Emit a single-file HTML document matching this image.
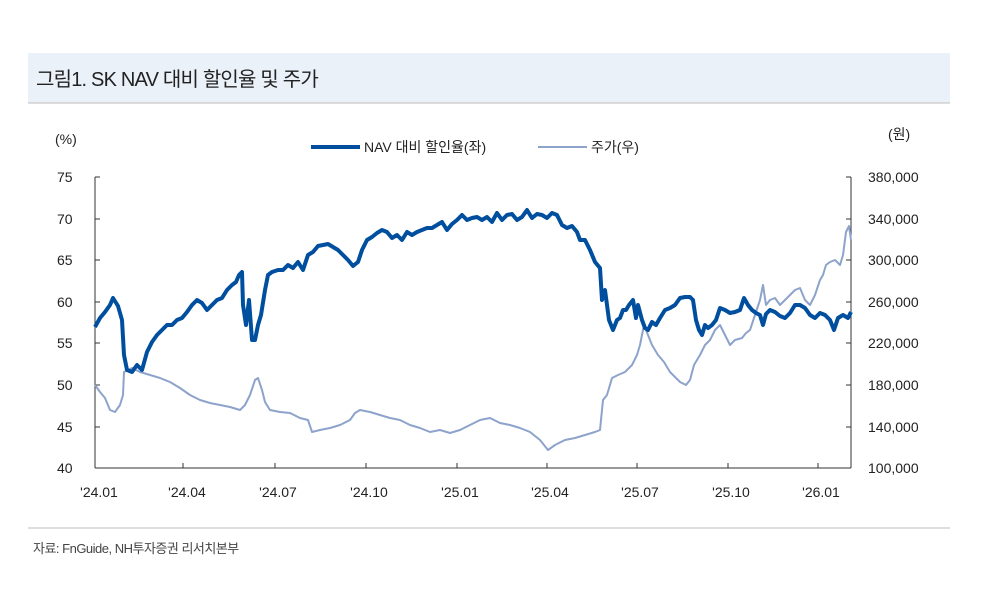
<!DOCTYPE html>
<html><head><meta charset="utf-8"><style>
body{margin:0;background:#fff;width:997px;height:592px;overflow:hidden;font-family:"Liberation Sans","Noto Sans CJK KR",sans-serif}
</style></head><body>
<svg width="997" height="592" xmlns="http://www.w3.org/2000/svg" style="position:absolute;left:0;top:0">
<rect x="28" y="53" width="922" height="50" fill="#ebf1f9"/>
<line x1="28" y1="103" x2="950" y2="103" stroke="#bcbcbc" stroke-width="1"/>
<text x="36" y="86" font-size="20" fill="#222" font-family="Liberation Sans,Noto Sans CJK KR,sans-serif" letter-spacing="-0.8">그림1. SK NAV 대비 할인율 및 주가</text>
<g font-size="14" fill="#222" font-family="Liberation Sans,Noto Sans CJK KR,sans-serif">
<text x="55" y="144">(%)</text>
<text x="888" y="139">(원)</text>
<text x="57" y="182">75</text><text x="57" y="224">70</text><text x="57" y="265">65</text><text x="57" y="307">60</text><text x="57" y="348">55</text><text x="57" y="390">50</text><text x="57" y="432">45</text><text x="57" y="473">40</text>
<text x="868" y="182">380,000</text><text x="868" y="224">340,000</text><text x="868" y="265">300,000</text><text x="868" y="307">260,000</text><text x="868" y="348">220,000</text><text x="868" y="390">180,000</text><text x="868" y="432">140,000</text><text x="868" y="473">100,000</text>
<g text-anchor="middle"><text x="99" y="497">'24.01</text><text x="187" y="497">'24.04</text><text x="278" y="497">'24.07</text><text x="369" y="497">'24.10</text><text x="460" y="497">'25.01</text><text x="550" y="497">'25.04</text><text x="640" y="497">'25.07</text><text x="731" y="497">'25.10</text><text x="821" y="497">'26.01</text></g>
<text x="364" y="152">NAV 대비 할인율(좌)</text>
<text x="591" y="152">주가(우)</text>
</g>
<line x1="311" y1="147" x2="360" y2="147" stroke="#004f9e" stroke-width="4"/>
<line x1="538" y1="147" x2="587" y2="147" stroke="#8da3cc" stroke-width="2"/>
<g stroke="#333" stroke-width="1" fill="none">
<line x1="95" y1="177" x2="95" y2="468"/><line x1="95" y1="468" x2="851" y2="468"/><line x1="851" y1="177" x2="851" y2="468"/>
<path d="M95 177h5M95 219h5M95 260h5M95 302h5M95 343h5M95 385h5M95 427h5M846 177h5M846 219h5M846 260h5M846 302h5M846 343h5M846 385h5M846 427h5M183 468v-5M275 468v-5M366 468v-5M457 468v-5M547 468v-5M637 468v-5M728 468v-5M818 468v-5"/>
</g>
<polyline fill="none" stroke="#8da3cc" stroke-width="2" stroke-linejoin="round" points="95,385 100,392 105,398 110,410 115,412 120,405 123,395 124,372 128,370 132,368 140,372 150,375 160,378 170,382 180,388 190,395 200,400 210,403 220,405 230,407 240,410 245,405 250,395 255,380 258,378 262,390 265,402 270,410 280,412 290,413 300,418 308,420 312,432 320,430 330,428 340,425 350,420 355,413 360,410 370,412 380,415 390,418 400,420 410,425 420,428 430,432 440,430 450,433 460,430 470,425 480,420 490,418 500,423 510,425 520,428 530,432 540,440 548,450 555,445 565,440 575,438 585,435 595,432 600,430 603,400 607,395 612,378 618,375 625,372 632,365 637,355 640,345 644,325 648,335 652,345 658,355 664,362 670,372 676,378 680,382 686,385 690,380 694,365 700,355 705,345 710,340 715,330 720,325 725,335 730,345 735,340 742,338 746,333 750,330 755,315 760,300 763,285 766,305 770,300 775,298 780,305 785,300 790,295 795,290 800,288 805,300 810,305 815,295 820,280 823,275 826,265 830,262 835,260 840,265 843,255 846,232 849,226 851,240"/>
<polyline fill="none" stroke="#004f9e" stroke-width="4" stroke-linejoin="round" points="95,327 100,318 105,312 110,305 113,298 118,306 122,320 124,355 127,370 132,372 137,365 142,370 147,352 152,342 157,335 162,330 167,325 172,325 177,320 182,318 187,312 192,305 197,300 202,303 207,310 212,305 217,300 222,298 227,290 232,285 236,282 239,275 242,272 243,305 246,325 249,300 252,340 255,340 258,325 261,315 265,290 268,275 272,272 278,270 283,270 288,265 293,268 298,262 303,270 308,255 313,252 318,246 323,245 328,244 333,247 338,250 343,255 348,260 353,266 358,262 362,250 367,240 372,237 377,233 382,230 387,232 392,238 397,235 402,240 407,232 412,235 417,232 422,230 427,228 432,228 437,225 442,222 447,230 452,224 457,220 462,215 467,220 472,218 477,217 482,220 487,217 492,222 497,213 502,220 507,215 512,214 517,220 522,217 527,210 532,218 537,214 542,215 547,218 552,213 557,215 562,225 567,228 572,226 577,232 580,240 585,240 590,250 595,262 600,268 602,300 605,290 609,320 613,330 617,320 620,318 623,310 626,310 629,305 633,300 636,318 638,305 642,320 645,328 648,330 652,322 656,325 660,318 665,310 670,308 675,305 680,298 685,297 690,297 693,300 696,320 699,330 702,335 705,325 708,328 712,325 716,320 720,308 725,310 730,313 735,312 740,310 744,298 748,305 752,310 756,313 760,315 763,325 766,314 770,310 775,312 780,316 785,318 790,313 795,305 800,305 805,308 810,315 815,318 820,313 825,315 830,320 834,330 838,318 843,315 848,318 851,312"/>
<line x1="28" y1="528" x2="950" y2="528" stroke="#bcbcbc" stroke-width="1"/>
<text x="33" y="553" font-size="13" fill="#444" font-family="Liberation Sans,Noto Sans CJK KR,sans-serif" letter-spacing="-0.5">자료: FnGuide, NH투자증권 리서치본부</text>
</svg>
</body></html>
